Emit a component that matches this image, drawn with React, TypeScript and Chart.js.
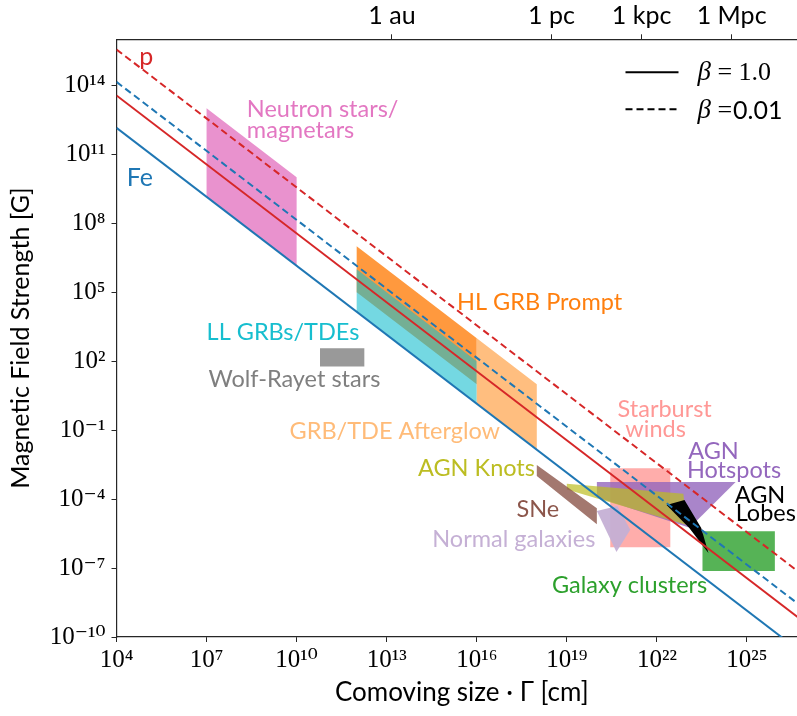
import React, { useEffect, useRef } from 'react';
import { Chart, registerables } from 'chart.js';

Chart.register(...registerables);

const SANS = 'Lato, "DejaVu Sans", sans-serif';
const SERIF = '"Liberation Serif", "DejaVu Serif", serif';

// Axis ranges and ticks
const X_MIN = 1e4;
const X_MAX = 1e27;
const Y_MIN = 1e-10;
const Y_MAX = 1e16;
const xTicks = [1e4, 1e7, 1e10, 1e13, 1e16, 1e19, 1e22, 1e25];
const yTicks = [1e-10, 1e-7, 1e-4, 1e-1, 1e2, 1e5, 1e8, 1e11, 1e14];
const topTickValues = [1.496e13, 3.086e18, 3.086e21, 3.086e24];
const topTickLabels = ['1 au', '1 pc', '1 kpc', '1 Mpc'];

// Hillas lines (end points)
const lineR = [1e4, 1e27];
const pSolidB = [3.6e13, 3.6e-10];
const feSolidB = [1.4e12, 1.4e-11];
const pDashedB = [3.6e15, 3.6e-8];
const feDashedB = [1.4e14, 1.4e-9];

// Source regions: polygon vertices (size R [cm], field B [G])
const neutronR = [1e7, 1e10, 1e10, 1e7];
const neutronB = [1e13, 1e10, 1.4e6, 1.4e9];
const hlGrbR = [1e12, 1e16, 1e16, 1e12];
const hlGrbB = [1e7, 1e3, 1e1, 1e5];
const llGrbR = [1e12, 1e16, 1e16, 1e12];
const llGrbB = [1e6, 1e2, 1.4, 1.4e4];
const afterglowR = [1e16, 1e18, 1e18, 1e16];
const afterglowB = [1e3, 1e1, 1.4e-2, 1.4];
const wolfRayetR = [6e10, 1.8e12, 1.8e12, 6e10];
const wolfRayetB = [360, 360, 58, 58];
const starburstR = [2.8e20, 2.8e22, 2.8e22, 2.8e20];
const starburstB = [2.2e-3, 2.2e-3, 8e-7, 8e-7];
const hotspotsR = [1e20, 4.2e24, 2.2e23, 1.1e23, 1e20];
const hotspotsB = [5.5e-4, 5.5e-4, 1.2e-5, 6e-6, 1.2e-4];
const knotsR = [1e19, 7.6e22, 1e23, 1e19];
const knotsB = [4.6e-4, 1.7e-4, 7.4e-6, 2.6e-4];
const galaxiesR = [1e20, 4.8e20, 1.3e21, 4.5e20];
const galaxiesB = [3e-5, 5e-5, 4.6e-6, 5e-7];
const sneR = [1e18, 1e20, 1e20, 1e18];
const sneB = [3e-3, 4e-5, 8e-6, 1e-3];
const clustersR = [3.3e23, 8.5e25, 8.5e25, 3.3e23];
const clustersB = [4e-6, 4e-6, 7.5e-8, 7.5e-8];
const lobesR = [2.1e22, 8.3e22, 3.0e23, 5.2e23, 1.2e23];
const lobesB = [5.5e-5, 9e-5, 5.5e-6, 4.5e-7, 5.5e-6];

const pts = (r: number[], b: number[]) => r.map((v, i) => ({ x: v, y: b[i] }));

const SUP: Record<string, string> = {
  '0': '⁰', '1': '¹', '2': '²', '3': '³', '4': '⁴', '5': '⁵', '6': '⁶', '7': '⁷', '8': '⁸', '9': '⁹', '-': '⁻',
};
const powLabel = (v: number) => {
  const e = Math.round(Math.log10(v));
  return '10' + String(e).split('').map((c) => SUP[c] ?? c).join('');
};

// Text annotations (position in data coordinates)
const annotations = [
  { text: 'p', r: 5.75e4, b: 7.6e14, color: '#d62728', size: 25 },
  { text: 'Fe', r: 2.2e4, b: 4.3e9, color: '#1f77b4', size: 25 },
  { text: 'Neutron stars/', r: 2.2e8, b: 4.3e12, color: '#e377c2' },
  { text: 'magnetars', r: 2.2e8, b: 4.9e11, color: '#e377c2' },
  { text: 'HL GRB Prompt', r: 2.2e15, b: 1.7e4, color: '#ff7f0e' },
  { text: 'LL GRBs/TDEs', r: 1.0e7, b: 830, color: '#17becf' },
  { text: 'Wolf-Rayet stars', r: 1.15e7, b: 7.8, color: '#7f7f7f' },
  { text: 'GRB/TDE Afterglow', r: 5.8e9, b: 0.04, color: '#ffbb78' },
  { text: 'AGN Knots', r: 1.1e14, b: 1e-3, color: '#bcbd22' },
  { text: 'SNe', r: 2.1e17, b: 1.6e-5, color: '#8c564b' },
  { text: 'Normal galaxies', r: 8.9e19, b: 8.5e-7, color: '#c5b0d5', align: 'right' },
  { text: 'Starburst', r: 4.9e20, b: 0.36, color: '#ff9896' },
  { text: 'winds', r: 8.9e20, b: 0.051, color: '#ff9896' },
  { text: 'AGN', r: 1.1e23, b: 5.5e-3, color: '#9467bd' },
  { text: 'Hotspots', r: 1.0e23, b: 7.9e-4, color: '#9467bd' },
  { text: 'AGN', r: 3.9e24, b: 6.6e-5, color: '#000000' },
  { text: 'Lobes', r: 4.2e24, b: 1.1e-5, color: '#000000' },
  { text: 'Galaxy clusters', r: 3.2e18, b: 7.9e-9, color: '#2ca02c' },
];

const regionDefs = [
  { r: neutronR, b: neutronB, color: 'rgba(227,119,194,0.8)' },
  { r: hlGrbR, b: hlGrbB, color: 'rgba(255,127,14,0.8)' },
  { r: llGrbR, b: llGrbB, color: 'rgba(23,190,207,0.6)' },
  { r: afterglowR, b: afterglowB, color: 'rgba(255,187,120,0.95)' },
  { r: wolfRayetR, b: wolfRayetB, color: 'rgba(127,127,127,0.8)' },
  { r: starburstR, b: starburstB, color: 'rgba(255,152,150,0.8)' },
  { r: hotspotsR, b: hotspotsB, color: 'rgba(148,103,189,0.8)' },
  { r: knotsR, b: knotsB, color: 'rgba(188,189,34,0.7)' },
  { r: galaxiesR, b: galaxiesB, color: 'rgba(197,176,213,0.95)' },
  { r: sneR, b: sneB, color: 'rgba(140,86,75,0.8)' },
  { r: clustersR, b: clustersB, color: 'rgba(44,160,44,0.8)' },
  { r: lobesR, b: lobesB, color: 'rgba(0,0,0,1)' },
];

const lineDefs = [
  { b: feSolidB, color: '#1f77b4', dash: [] as number[] },
  { b: pSolidB, color: '#d62728', dash: [] as number[] },
  { b: feDashedB, color: '#1f77b4', dash: [7, 4] },
  { b: pDashedB, color: '#d62728', dash: [7, 4] },
];

const annotationPlugin = {
  id: 'hillasAnnotations',
  afterDatasetsDraw(chart: any) {
    const { ctx, chartArea } = chart;
    const xs = chart.scales.x;
    const ys = chart.scales.y;
    ctx.save();
    ctx.textBaseline = 'alphabetic';
    for (const a of annotations as any[]) {
      ctx.font = `${a.size ?? 23.5}px ${SANS}`;
      ctx.fillStyle = a.color;
      ctx.textAlign = a.align ?? 'left';
      ctx.fillText(a.text, xs.getPixelForValue(a.r), ys.getPixelForValue(a.b));
    }
    // legend
    const lx0 = chartArea.right - 181.5;
    const lx1 = chartArea.right - 128.5;
    const tx = chartArea.right - 109.5;
    const y1 = chartArea.top + 33;
    const y2 = chartArea.top + 70;
    ctx.strokeStyle = '#000';
    ctx.lineWidth = 2;
    ctx.beginPath();
    ctx.setLineDash([]);
    ctx.moveTo(lx0, y1);
    ctx.lineTo(lx1, y1);
    ctx.stroke();
    ctx.beginPath();
    ctx.setLineDash([7, 4]);
    ctx.moveTo(lx0, y2);
    ctx.lineTo(lx1, y2);
    ctx.stroke();
    ctx.setLineDash([]);
    ctx.fillStyle = '#000';
    ctx.textAlign = 'left';
    ctx.textBaseline = 'middle';
    ctx.font = `italic 27px ${SERIF}`;
    ctx.fillText('β', tx, y1 + 1);
    const w = ctx.measureText('β').width;
    ctx.font = `26px ${SERIF}`;
    ctx.fillText(' = 1.0', tx + w, y1 + 1);
    ctx.font = `italic 27px ${SERIF}`;
    ctx.fillText('β', tx, y2 + 2);
    ctx.font = `26px ${SERIF}`;
    ctx.fillText(' =', tx + w, y2 + 2);
    const w2 = ctx.measureText(' =').width;
    ctx.font = `25px ${SANS}`;
    ctx.fillText('0.01', tx + w + w2 + 1, y2 + 2);
    ctx.restore();
  },
};

export default function App() {
  const ref = useRef<HTMLCanvasElement>(null);
  useEffect(() => {
    const canvas = ref.current;
    if (!canvas) return;
    const n = regionDefs.length + lineDefs.length;
    const datasets: any[] = [];
    regionDefs.forEach((d, i) => {
      datasets.push({
        data: pts(d.r, d.b),
        backgroundColor: d.color,
        borderColor: 'rgba(0,0,0,0)',
        borderWidth: 0,
        pointRadius: 0,
        fill: 'shape',
        order: n - i,
      });
    });
    lineDefs.forEach((d, i) => {
      datasets.push({
        data: pts(lineR, d.b),
        borderColor: d.color,
        borderWidth: 2,
        borderDash: d.dash,
        pointRadius: 0,
        fill: false,
        order: lineDefs.length - i,
      });
    });
    const axisColor = '#262626';
    const chart = new Chart(canvas, {
      type: 'line',
      data: { datasets },
      options: {
        responsive: false,
        animation: false,
        devicePixelRatio: 1,
        layout: { padding: 0 },
        plugins: {
          legend: { display: false },
          tooltip: { enabled: false },
        },
        scales: {
          x: {
            type: 'logarithmic',
            position: 'bottom',
            min: X_MIN,
            max: X_MAX,
            afterBuildTicks: (s: any) => {
              s.ticks = xTicks.map((v) => ({ value: v }));
            },
            afterFit: (s: any) => {
              s.height = 79;
            },
            ticks: {
              autoSkip: false,
              maxRotation: 0,
              padding: 3,
              color: '#000',
              font: { family: SERIF, size: 25 },
              callback: (v: any) => powLabel(Number(v)),
            },
            grid: { drawOnChartArea: false, drawTicks: true, tickLength: 5, color: axisColor },
            border: { display: true, color: axisColor, width: 1.2 },
            title: {
              display: true,
              text: 'Comoving size · Γ [cm]',
              color: '#000',
              font: { family: SANS, size: 26 },
              padding: { top: 0, bottom: 8 },
            },
          },
          x2: {
            type: 'logarithmic',
            position: 'top',
            min: X_MIN,
            max: X_MAX,
            afterBuildTicks: (s: any) => {
              s.ticks = topTickValues.map((v) => ({ value: v }));
            },
            afterFit: (s: any) => {
              s.height = 39.3;
            },
            ticks: {
              autoSkip: false,
              maxRotation: 0,
              padding: 3,
              color: '#000',
              font: { family: SANS, size: 25 },
              callback: (_v: any, i: number) => topTickLabels[i],
            },
            grid: { drawOnChartArea: false, drawTicks: true, tickLength: 5, color: axisColor },
            border: { display: true, color: axisColor, width: 1.2 },
          },
          y: {
            type: 'logarithmic',
            position: 'left',
            min: Y_MIN,
            max: Y_MAX,
            afterBuildTicks: (s: any) => {
              s.ticks = yTicks.map((v) => ({ value: v }));
            },
            afterFit: (s: any) => {
              s.width = 116.5;
            },
            ticks: {
              autoSkip: false,
              padding: 6,
              color: '#000',
              font: { family: SERIF, size: 25 },
              callback: (v: any) => powLabel(Number(v)),
            },
            grid: { drawOnChartArea: false, drawTicks: true, tickLength: 5, color: axisColor },
            border: { display: true, color: axisColor, width: 1.2 },
            title: {
              display: true,
              text: 'Magnetic Field Strength [G]',
              color: '#000',
              font: { family: SANS, size: 25 },
              padding: { top: 6, bottom: 0 },
            },
          },
        },
      } as any,
      plugins: [annotationPlugin],
    });
    return () => chart.destroy();
  }, []);
  return (
    <div
      style={{
        position: 'fixed',
        left: 0,
        top: 0,
        width: 797,
        height: 716,
        overflow: 'hidden',
        background: '#ffffff',
      }}
    >
      <canvas ref={ref} width={807} height={716} style={{ display: 'block', width: 807, height: 716 }} />
    </div>
  );
}
